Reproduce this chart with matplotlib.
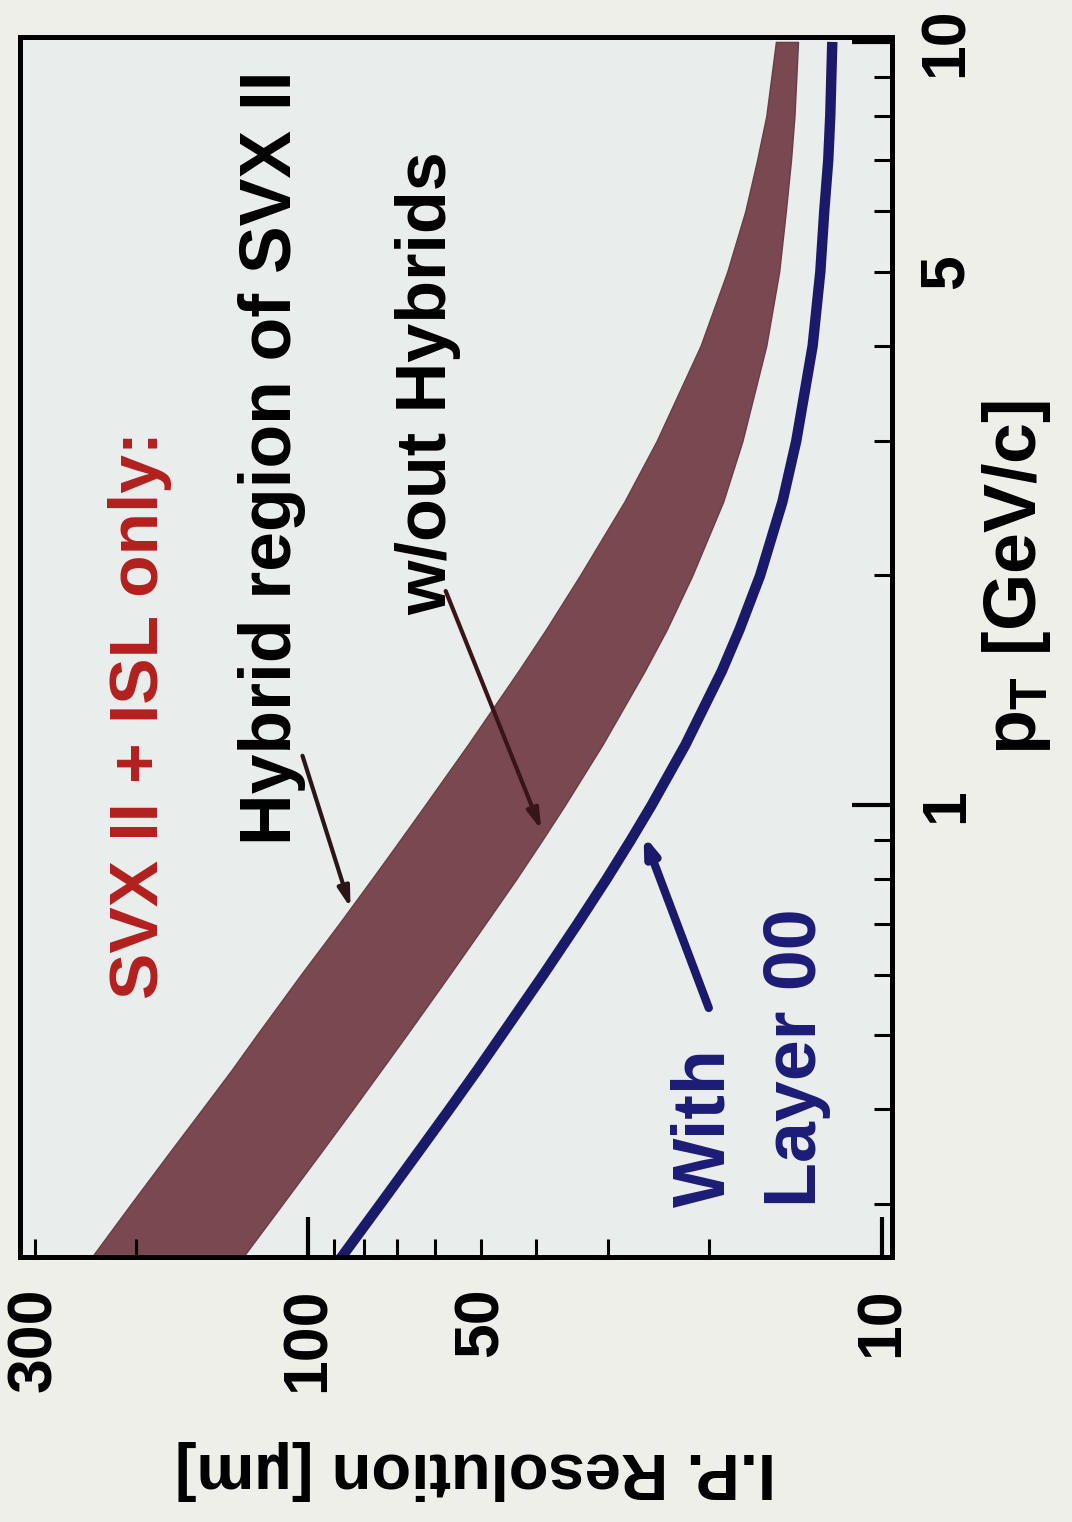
import matplotlib
matplotlib.use("Agg")
import matplotlib.pyplot as plt

plt.rcParams['font.family'] = ['Liberation Sans', 'DejaVu Sans']
plt.rcParams['font.weight'] = 'bold'
plt.rcParams['axes.labelweight'] = 'bold'
plt.rcParams['mathtext.fontset'] = 'custom'
plt.rcParams['mathtext.rm'] = 'Liberation Sans:bold'
plt.rcParams['mathtext.it'] = 'Liberation Sans:bold'

# values: pT [GeV/c] and I.P. resolution [um]
pt = [0.25, 0.3, 0.35, 0.4, 0.45, 0.5, 0.6, 0.7, 0.8, 0.9, 1.0, 1.2,
      1.5, 1.7, 2.0, 2.5, 3.0, 4.0, 5.0, 6.0, 7.0, 8.0, 10.0]
hybrid_upper = [244, 204, 175, 153, 136, 123, 103, 88.3, 77.5, 69.2, 62.6, 52.7,
                43.0, 38.5, 33.6, 28.1, 24.7, 20.7, 18.6, 17.3, 16.5, 15.9, 15.3]
hybrid_lower = [133, 111, 95.3, 83.6, 74.6, 67.4, 56.7, 49.1, 43.4, 39.1, 35.7, 30.7,
                25.9, 23.7, 21.4, 18.9, 17.5, 15.9, 15.1, 14.7, 14.4, 14.2, 14.0]
layer00 = [89.5, 74.9, 64.5, 56.7, 50.7, 46.0, 38.9, 33.9, 30.2, 27.4, 25.2, 22.0,
           19.0, 17.7, 16.3, 14.9, 14.1, 13.2, 12.8, 12.6, 12.4, 12.3, 12.2]

res_major = [10, 100]
res_minor = [20, 30, 40, 50, 60, 70, 80, 90, 200, 300]
res_minor_labels = ['', '', '', '50', '', '', '', '', '', '300']
pt_major = [1, 10]
pt_minor = [0.3, 0.4, 0.5, 0.6, 0.7, 0.8, 0.9, 2, 3, 4, 5, 6, 7, 8, 9]
pt_minor_labels = ['', '', '', '', '', '', '', '', '', '', '5', '', '', '', '']

W, H = 1072, 1522
fig = plt.figure(figsize=(W / 100, H / 100), dpi=100, facecolor='#eeefe9')
# chart is shown turned 90 degrees: resolution runs right-to-left, pT upward
ax = fig.add_axes([20 / W, (H - 1257) / H, 872 / W, 1220 / H], facecolor='#e9edeb')

ax.fill_betweenx(pt, hybrid_lower, hybrid_upper, color='#7a4851', edgecolor='#6a3d45', lw=1)
ax.plot(layer00, pt, color='#1b1a6a', lw=7.5, solid_capstyle='butt')

ax.set_xscale('log')
ax.set_yscale('log')
ax.set_xlim(318, 9.6)
ax.set_ylim(0.256, 10.15)

ax.set_xticks(res_major, ['10', '100'])
ax.set_xticks(res_minor, res_minor_labels, minor=True)
ax.yaxis.tick_right()
ax.set_yticks(pt_major, ['1', '10'])
ax.set_yticks(pt_minor, pt_minor_labels, minor=True)

ax.tick_params(which='both', direction='in', top=False, left=False,
               bottom=True, right=True, labelsize=45, colors='black')
ax.tick_params(which='major', length=29, width=3)
ax.tick_params(which='minor', length=13, width=2.2)
ax.tick_params(axis='x', which='both', pad=22, labelrotation=90)
ax.tick_params(axis='y', which='both', pad=18, labelrotation=90)
for lab in ax.get_yticklabels(which='both'):
    lab.set_verticalalignment('center')

for s in ax.spines.values():
    s.set_linewidth(3.6)

ax.set_xlabel('I.P. Resolution [µm]', fontsize=47, rotation=180, va='center')
ax.xaxis.set_label_coords(0.522, -0.175)
ax.yaxis.set_label_position('right')
ax.set_ylabel(r'p$_\mathrm{T}$ [GeV/c]', fontsize=53, rotation=90, va='center')
ax.yaxis.set_label_coords(1.143, 0.557)

ax.text(0.138, 0.444, 'SVX II + ISL only:', transform=ax.transAxes, rotation=90,
        ha='center', va='center', fontsize=50, color='#b3201e')
ax.text(0.289, 0.655, 'Hybrid region of SVX II', transform=ax.transAxes, rotation=90,
        ha='center', va='center', fontsize=51.5, color='black')
ax.text(0.468, 0.716, 'w/out Hybrids', transform=ax.transAxes, rotation=90,
        ha='center', va='center', fontsize=50.5, color='black')
ax.text(0.838, 0.041, 'With\nLayer 00', transform=ax.transAxes, rotation=90,
        ha='center', va='bottom', multialignment='left', fontsize=53,
        color='#1c1c78', linespacing=1.42)

ax.annotate('', xy=(0.380, 0.284), xytext=(0.323, 0.413), xycoords='axes fraction',
            arrowprops=dict(arrowstyle='-|>,head_length=1.2,head_width=0.35',
                            color='#2a1518', lw=3))
ax.annotate('', xy=(0.599, 0.348), xytext=(0.487, 0.548), xycoords='axes fraction',
            arrowprops=dict(arrowstyle='-|>,head_length=1.2,head_width=0.35',
                            color='#3a1518', lw=3))
ax.annotate('', xy=(0.714, 0.348), xytext=(0.791, 0.202), xycoords='axes fraction',
            arrowprops=dict(arrowstyle='-|>,head_length=1.0,head_width=0.35',
                            color='#1b1a6a', lw=6))

fig.savefig('out.png', dpi=100, facecolor=fig.get_facecolor())
